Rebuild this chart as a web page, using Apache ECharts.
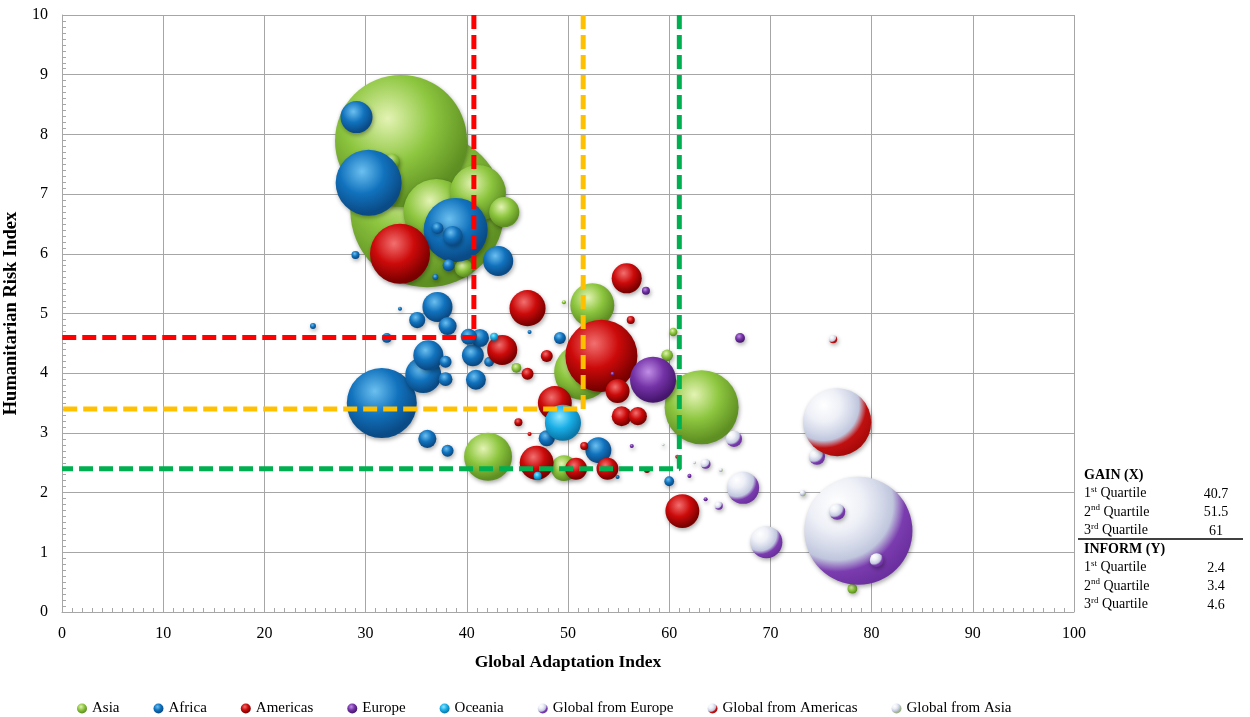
<!DOCTYPE html>
<html>
<head>
<meta charset="utf-8">
<script src="https://cdn.jsdelivr.net/npm/echarts/dist/echarts.min.js"></script>
<style>
  html, body { margin: 0; padding: 0; background: #ffffff; }
  #chart { width: 1250px; height: 717px; }
</style>
</head>
<body>
<div id="chart"></div>
<script>
// Each point: [GAIN adaptation score, INFORM risk score, population (millions)]
const asia = [
  [33.5, 7.89, 1273], [36.1, 6.73, 1732], [37.0, 6.70, 318], [41.1, 7.02, 229],
  [43.7, 6.70, 66], [39.7, 5.76, 24], [32.6, 7.54, 19], [52.4, 5.14, 141],
  [51.4, 4.02, 229], [63.2, 3.43, 400], [42.1, 2.60, 168], [49.6, 2.41, 49],
  [44.9, 4.09, 7], [60.4, 4.69, 5], [59.8, 4.30, 10], [49.6, 5.19, 1.2],
  [78.1, 0.39, 7], [75.1, 1.59, 5]
];
const africa = [
  [29.1, 8.29, 75], [30.3, 7.19, 318], [38.9, 6.40, 299], [38.6, 6.30, 29],
  [37.1, 6.43, 10.5], [43.1, 5.88, 66], [38.2, 5.81, 10.5], [36.9, 5.61, 2.6],
  [29.0, 5.98, 4.7], [37.1, 5.11, 66], [35.1, 4.89, 19], [38.1, 4.79, 24],
  [33.4, 5.08, 1.2], [24.8, 4.79, 2.6], [32.1, 4.59, 7], [36.2, 4.30, 66],
  [35.7, 3.97, 95], [37.9, 4.19, 10.5], [37.9, 3.90, 14], [40.2, 4.61, 19],
  [41.3, 4.59, 24], [40.6, 4.30, 35], [42.2, 4.19, 7], [40.9, 3.89, 29],
  [31.6, 3.50, 358], [36.1, 2.90, 24], [38.1, 2.70, 10.5], [49.2, 4.59, 10.5],
  [47.9, 2.91, 19], [53.0, 2.71, 49], [60.0, 2.19, 7], [46.2, 4.69, 1.2],
  [54.9, 2.26, 1.2]
];
const americas = [
  [33.4, 6.00, 263], [46.0, 5.09, 95], [55.8, 5.59, 66], [43.5, 4.39, 66],
  [53.3, 4.29, 379], [47.9, 4.29, 10.5], [46.0, 3.99, 10.5], [56.2, 4.89, 4.7],
  [48.7, 3.50, 84], [54.9, 3.70, 42], [55.3, 3.28, 29], [56.9, 3.28, 24],
  [45.1, 3.18, 4.7], [46.2, 2.98, 1.2], [46.9, 2.50, 84], [50.8, 2.40, 35],
  [53.9, 2.40, 35], [61.3, 1.69, 84], [57.8, 2.38, 2.6], [51.6, 2.78, 4.7],
  [60.8, 2.60, 1.2]
];
const europe = [
  [58.4, 3.89, 155], [57.7, 5.38, 4.7], [67.0, 4.59, 7], [62.0, 2.28, 1.2],
  [56.3, 2.78, 1.2], [63.6, 1.89, 1.2], [54.4, 3.99, 1.2], [79.1, 1.98, 1.2]
];
const oceania = [
  [49.5, 3.17, 95], [42.7, 4.61, 4.7], [47.0, 2.28, 4.7]
];
const globalFromEurope = [
  [78.7, 1.36, 852], [69.6, 1.17, 75], [67.3, 2.08, 75], [66.4, 2.90, 19],
  [63.6, 2.48, 7], [74.6, 2.60, 19], [76.6, 1.68, 19], [80.5, 0.87, 14],
  [64.9, 1.78, 4.7]
];
const globalFromAmericas = [
  [76.6, 3.18, 338], [76.2, 4.57, 4.7]
];
const globalFromAsia = [
  [73.2, 1.99, 2.6], [65.1, 2.38, 1.2], [62.5, 2.50, 0.6], [59.4, 2.80, 0.6]
];

// Quartiles of the two indices
const gainQuartiles = [40.7, 51.5, 61];
const informQuartiles = [2.4, 3.4, 4.6];
const quartileNames = ['1', '2', '3'];
const quartileSuffix = ['st', 'nd', 'rd'];
const quartileColors = ['#ff0000', '#ffc000', '#00b050'];

const FONT = '"Liberation Serif", "Times New Roman", serif';

// shaded sphere fill
function ball(hi, base, dark) {
  return {
    type: 'radial', x: 0.4, y: 0.33, r: 0.75,
    colorStops: [
      { offset: 0, color: hi },
      { offset: 0.45, color: base },
      { offset: 0.85, color: dark },
      { offset: 1, color: dark }
    ]
  };
}
// silver sphere tinted towards the lower right
function silverBall(tint, tintDark) {
  return {
    type: 'radial', x: 0.3, y: 0.25, r: 1.0,
    colorStops: [
      { offset: 0, color: '#ffffff' },
      { offset: 0.25, color: '#eef0f7' },
      { offset: 0.42, color: '#d2d7e8' },
      { offset: 0.52, color: '#bfc5dc' },
      { offset: 0.63, color: tint },
      { offset: 1, color: tintDark }
    ]
  };
}

const groups = [
  { name: 'Asia', data: asia, fill: ball('#e4f3b4', '#8dc63f', '#5e8f22') },
  { name: 'Africa', data: africa, fill: ball('#6cc0f0', '#1172bd', '#0a4a85') },
  { name: 'Americas', data: americas, fill: ball('#f27070', '#cc0a0a', '#7a0000') },
  { name: 'Europe', data: europe, fill: ball('#c08ee6', '#7432a6', '#46166e') },
  { name: 'Oceania', data: oceania, fill: ball('#8fe6ff', '#1aaee6', '#0a76a8') },
  { name: 'Global from Europe', data: globalFromEurope, fill: silverBall('#7a3cae', '#5a1f8c') },
  { name: 'Global from Americas', data: globalFromAmericas, fill: silverBall('#c01010', '#8a0000') },
  { name: 'Global from Asia', data: globalFromAsia, fill: silverBall('#a8b89a', '#7d9a5e') }
];

const series = groups.map(g => ({
  name: g.name,
  type: 'scatter',
  // larger bubbles first so small ones stay visible
  data: g.data.slice().sort((a, b) => b[2] - a[2]),
  symbolSize: d => Math.sqrt(d[2]) * 3.7,
  itemStyle: {
    color: g.fill,
    opacity: 1,
    shadowBlur: 4,
    shadowColor: 'rgba(0,0,0,0.35)',
    shadowOffsetX: 1,
    shadowOffsetY: 2
  },
  emphasis: { disabled: true },
  z: 2
}));

// dashed quartile boundaries: GAIN quartile paired with the opposite INFORM quartile
gainQuartiles.forEach((gx, i) => {
  const iy = informQuartiles[informQuartiles.length - 1 - i];
  series.push({
    type: 'line',
    data: [[gx, 10], [gx, iy], [0, iy]],
    symbol: 'none',
    silent: true,
    lineStyle: { color: quartileColors[i], width: 5, type: [14, 6] },
    z: 5
  });
});

const gray = '#a6a6a6';

function quartileRow(i, value, y) {
  return [
    {
      type: 'text', left: 1084, top: y - 9,
      style: {
        text: '{n|' + quartileNames[i] + '}{s|' + quartileSuffix[i] + '}{n| Quartile}',
        rich: {
          n: { fontFamily: FONT, fontSize: 14, fill: '#000', lineHeight: 17 },
          s: { fontFamily: FONT, fontSize: 9, fill: '#000', verticalAlign: 'top', lineHeight: 17 }
        }
      }
    },
    {
      type: 'text', x: 1216, y: y,
      style: {
        text: String(value), fontFamily: FONT, fontSize: 14, fill: '#000',
        textAlign: 'center', verticalAlign: 'middle'
      }
    }
  ];
}

const graphics = [
  {
    type: 'text', left: 1084, top: 468,
    style: { text: 'GAIN (X)', fontFamily: FONT, fontSize: 14, fontWeight: 'bold', fill: '#000' }
  },
  ...gainQuartiles.flatMap((v, i) => quartileRow(i, v, 494 + i * 18.5)),
  {
    type: 'line',
    shape: { x1: 1078, y1: 539, x2: 1243, y2: 539 },
    style: { stroke: '#000', lineWidth: 1.5 }
  },
  {
    type: 'text', left: 1084, top: 542,
    style: { text: 'INFORM (Y)', fontFamily: FONT, fontSize: 14, fontWeight: 'bold', fill: '#000' }
  },
  ...informQuartiles.flatMap((v, i) => quartileRow(i, v, 568 + i * 18.5))
];

const chart = echarts.init(document.getElementById('chart'), null, { renderer: 'canvas' });
chart.setOption({
  animation: false,
  backgroundColor: '#ffffff',
  grid: { left: 62, right: 176, top: 15, bottom: 105, containLabel: false, outerBoundsMode: 'none' },
  xAxis: {
    type: 'value', min: 0, max: 100, interval: 10,
    name: 'Global Adaptation Index', nameLocation: 'middle', nameGap: 41,
    nameTextStyle: { fontFamily: FONT, fontSize: 17.5, fontWeight: 'bold', color: '#000' },
    axisLine: { show: true, lineStyle: { color: gray } },
    axisTick: { show: true, inside: true, length: 5, lineStyle: { color: gray } },
    minorTick: { show: true, splitNumber: 10, length: 4, lineStyle: { color: gray } },
    axisLabel: { fontFamily: FONT, fontSize: 16, color: '#000', margin: 14 },
    splitLine: { show: true, lineStyle: { color: gray, width: 1 } }
  },
  yAxis: {
    type: 'value', min: 0, max: 10, interval: 1,
    name: 'Humanitarian Risk Index', nameLocation: 'middle', nameGap: 30,
    nameTextStyle: { fontFamily: FONT, fontSize: 18.5, fontWeight: 'bold', color: '#000' },
    axisLine: { show: true, lineStyle: { color: gray } },
    axisTick: { show: true, inside: true, length: 5, lineStyle: { color: gray } },
    minorTick: { show: true, splitNumber: 10, length: 4, lineStyle: { color: gray } },
    axisLabel: { fontFamily: FONT, fontSize: 16, color: '#000', margin: 14 },
    splitLine: { show: true, lineStyle: { color: gray, width: 1 } }
  },
  legend: {
    data: groups.map(g => g.name),
    left: 72, top: 696,
    icon: 'circle', itemWidth: 10, itemHeight: 10, itemGap: 34,
    textStyle: { fontFamily: FONT, fontSize: 15, color: '#000' },
    selectedMode: false
  },
  graphic: graphics,
  series: series
});
</script>
</body>
</html>
